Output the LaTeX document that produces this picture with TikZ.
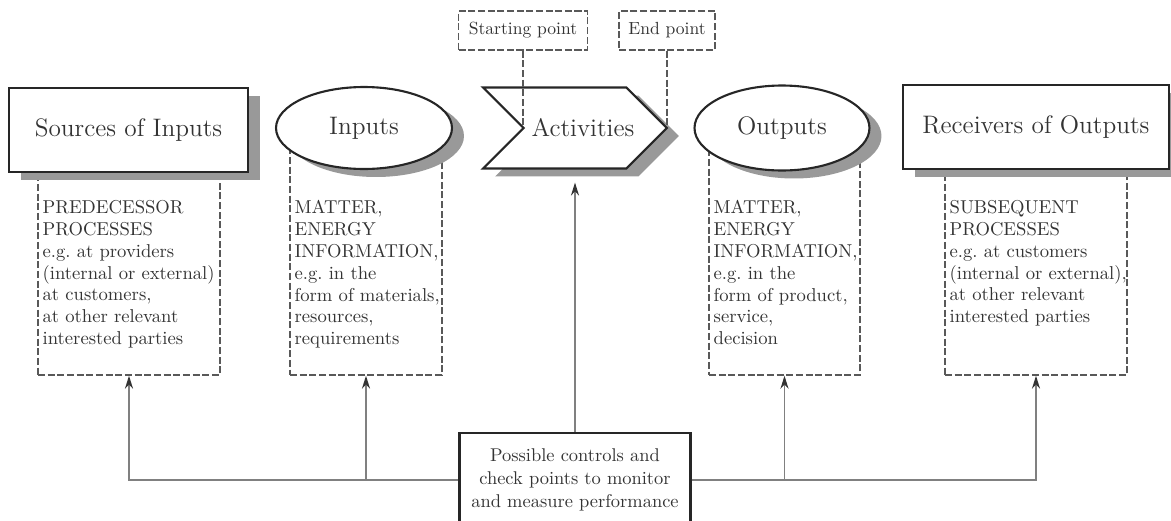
\documentclass[tikz,border=0pt]{standalone}
\usetikzlibrary{arrows.meta,shapes.geometric,shapes.symbols,shadows,positioning}

\tikzset{
    shade box/.style={drop shadow={shadow xshift=0.24cm, shadow yshift=-0.16cm, fill=black!40, opacity=1}},
    titlebox/.style={draw=black!85, line width=1.2pt, fill=white, text=black!80,
        font=\fontsize{14.4}{17}\selectfont, shade box},
    dashbox/.style={draw=black!65, line width=0.8pt, dash pattern=on 4pt off 1.5pt, inner sep=0pt},
    boxtext/.style={anchor=north west, inner sep=0pt, align=left, text=black!80,
        font=\fontsize{10.6}{12.4}\selectfont},
    ctrlline/.style={draw=black!50, line width=1.1pt, -{Stealth[length=2.6mm,width=1.6mm,black!80]}}
}

\begin{document}
\begin{tikzpicture}[x=0.02cm, y=-0.02cm]
    \useasboundingbox (0,0) rectangle (1171,521);

    % dashed frames below the main shapes
    \node[dashbox, minimum width=3.64cm, minimum height=4.94cm] (b1) at (129,251.5) {};
    \node[dashbox, minimum width=3.04cm, minimum height=4.94cm] (b2) at (366,251.5) {};
    \node[dashbox, minimum width=3.02cm, minimum height=4.94cm] (b3) at (784.5,251.5) {};
    \node[dashbox, minimum width=3.64cm, minimum height=4.94cm] (b4) at (1036,251.5) {};

    % texts in the frames
    \node[boxtext] (t1) at ([shift={(0.1cm,-1.46cm)}]b1.north west)
        {PREDECESSOR\\PROCESSES\\e.g.\ at providers\\(internal or external)\\at customers,\\at other relevant\\interested parties};
    \node[boxtext] (t2) at ([shift={(0.1cm,-1.46cm)}]b2.north west)
        {MATTER,\\ENERGY\\INFORMATION,\\e.g.\ in the\\form of materials,\\resources,\\requirements};
    \node[boxtext] (t3) at ([shift={(0.1cm,-1.46cm)}]b3.north west)
        {MATTER,\\ENERGY\\INFORMATION,\\e.g.\ in the\\form of product,\\service,\\decision};
    \node[boxtext] (t4) at ([shift={(0.1cm,-1.46cm)}]b4.north west)
        {SUBSEQUENT\\PROCESSES\\e.g.\ at customers\\(internal or external),\\at other relevant\\interested parties};

    % the process chain
    \node[titlebox, rectangle, minimum width=4.78cm, minimum height=1.68cm] (src) at (128.5,130) {Sources of Inputs};
    \node[titlebox, ellipse, minimum width=3.52cm, minimum height=1.64cm, inner sep=0pt] (inp) at (364,128) {Inputs};
    \node[titlebox, signal, signal from=west, signal to=east, signal pointer angle=90,
        minimum width=3.68cm, minimum height=1.62cm, inner sep=0pt,
        label={[xshift=0.16cm, text=black!80, font=\fontsize{14.4}{17}\selectfont]center:Activities}] (act) at (575,128) {};
    \node[titlebox, ellipse, minimum width=3.5cm, minimum height=1.7cm, inner sep=0pt] (out) at (782,128) {Outputs};
    \node[titlebox, rectangle, minimum width=5.32cm, minimum height=1.68cm] (rcv) at (1036,127) {Receivers of Outputs};

    % starting and end point
    \node[dashbox, minimum width=2.58cm, minimum height=0.78cm, text=black!80, font=\fontsize{10}{12}\selectfont] (start) at (523,30.5) {Starting point};
    \node[dashbox, minimum width=1.92cm, minimum height=0.78cm, text=black!80, font=\fontsize{10}{12}\selectfont] (endp) at (667,30.5) {End point};
    \draw[dashbox] (start.south) -- (start.south |- act.center);
    \draw[dashbox] (endp.south) -- (endp.south |- act.center);

    % controls and check points
    \node[draw=black!85, line width=1.2pt, fill=white, text=black!80, align=center,
        font=\fontsize{10.5}{13}\selectfont, minimum width=4.62cm, minimum height=1.88cm] (ctrl) at (575,480)
        {Possible controls and\\check points to monitor\\and measure performance};
    \draw[ctrlline] (ctrl.west) -| (b1.south);
    \draw[ctrlline] (ctrl.west -| b2.south) -- (b2.south);
    \draw[ctrlline] (ctrl.east) -| (b4.south);
    \draw[ctrlline] (ctrl.east -| b3.south) -- (b3.south);
    \draw[ctrlline, shorten >=0.26cm] (ctrl.north) -- (act.south);
\end{tikzpicture}
\end{document}
